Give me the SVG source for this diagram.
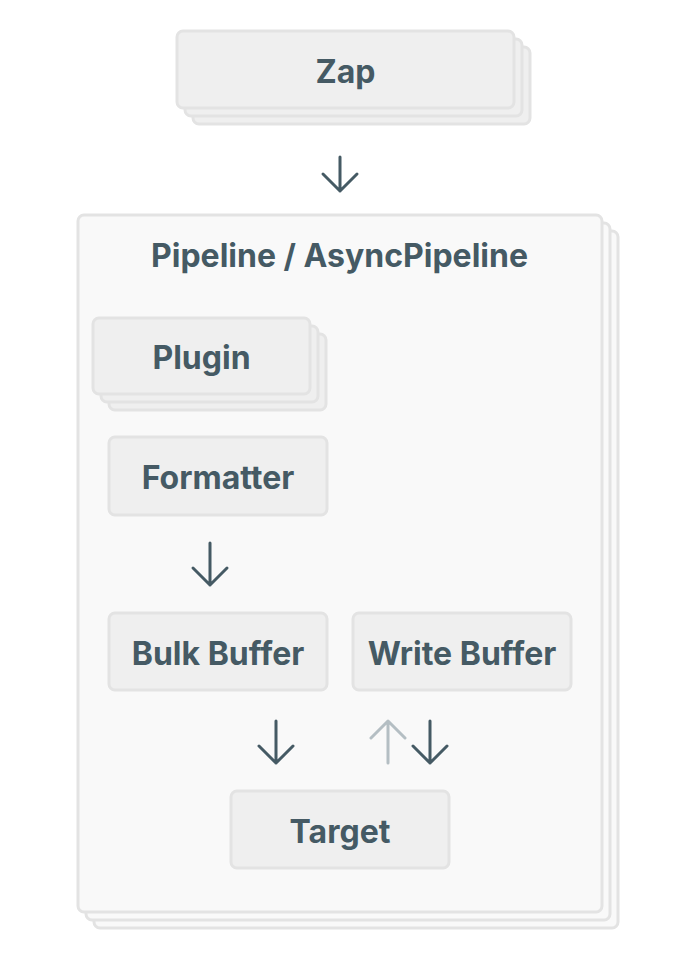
<svg xmlns="http://www.w3.org/2000/svg" width="696" height="966" viewBox="0 0 696 966">
<defs>
<style>
.box{fill:#efefef;stroke:#e3e3e3;stroke-width:3}
.cont{fill:#f9f9f9;stroke:#e3e3e3;stroke-width:3}
.lbl{font-family:Inter,"Noto Sans","Liberation Sans",sans-serif;font-weight:700;font-size:32px;fill:#455a64;text-anchor:middle}
.arr{fill:none;stroke:#455a64;stroke-width:3;stroke-linecap:round;stroke-linejoin:round}
.arr.light{stroke:#b4bec3}
</style>
</defs>
<rect width="696" height="966" fill="#ffffff"/>
<g id="zap">
<rect class="box" x="193" y="47" width="337" height="77" rx="6"/>
<rect class="box" x="185" y="39" width="337" height="77" rx="6"/>
<rect class="box" x="177" y="31" width="337" height="77" rx="6"/>
<text class="lbl" x="345.5" y="83">Zap</text>
</g>
<g id="pipeline">
<rect class="cont" x="94" y="231" width="524" height="697" rx="6"/>
<rect class="cont" x="86" y="223" width="524" height="697" rx="6"/>
<rect class="cont" x="78" y="215" width="524" height="697" rx="6"/>
<text class="lbl" x="339.5" y="267">Pipeline / AsyncPipeline</text>
</g>
<g id="plugin">
<rect class="box" x="109" y="334" width="217" height="76" rx="6"/>
<rect class="box" x="101" y="326" width="217" height="76" rx="6"/>
<rect class="box" x="93" y="318" width="217" height="76" rx="6"/>
<text class="lbl" x="201.5" y="369">Plugin</text>
</g>
<g id="formatter">
<rect class="box" x="109" y="437" width="218" height="78" rx="6"/>
<text class="lbl" x="218" y="489">Formatter</text>
</g>
<g id="bulk-buffer">
<rect class="box" x="109" y="613" width="218" height="77" rx="6"/>
<text class="lbl" x="218" y="665">Bulk Buffer</text>
</g>
<g id="write-buffer">
<rect class="box" x="353" y="613" width="218" height="77" rx="6"/>
<text class="lbl" x="462" y="665">Write Buffer</text>
</g>
<g id="target">
<rect class="box" x="231" y="791" width="218" height="77" rx="6"/>
<text class="lbl" x="340" y="843">Target</text>
</g>
<g id="connectors">
<path class="arr" d="M340 157V191M323 174L340 191L357 174"/>
<path class="arr" d="M210 543V585M193 568L210 585L227 568"/>
<path class="arr" d="M276 721V763M259 746L276 763L293 746"/>
<path class="arr light" d="M388 763V721M371 738L388 721L405 738"/>
<path class="arr" d="M430 721V763M413 746L430 763L447 746"/>
</g>
</svg>
